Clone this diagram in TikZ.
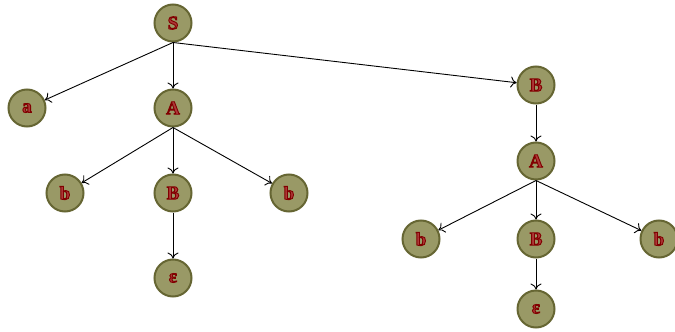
\documentclass[tikz,border=0pt]{standalone}
\usepackage{fontspec}
\setmainfont{Liberation Serif}
\usetikzlibrary{arrows.meta}
\definecolor{nodefill}{RGB}{153,153,102}
\definecolor{nodeedge}{RGB}{102,102,51}
\definecolor{glyphred}{RGB}{128,0,0}
% outlined glyphs: dark red stroke around a slightly lighter red fill
\newcommand{\outl}[1]{\special{pdf:literal direct 2 Tr 0.9 w 0.5 0 0 RG 0.68 0.22 0.22 rg}#1\special{pdf:literal direct 0 Tr}}
\tikzset{
  sym/.style={circle, draw=nodeedge, fill=nodefill, line width=2pt,
    minimum size=37pt, inner sep=0pt, font=\bfseries\fontsize{19}{19}\selectfont, text=glyphred},
  edge/.style={draw=black, line width=0.9pt, -{To[length=6pt,width=11pt]}}
}
\begin{document}
\begin{tikzpicture}[x=1pt,y=-1pt]
\useasboundingbox (0,0) rectangle (675,332);
\node[sym] (S) at (173,23) {\outl{S}};
\node[sym] (a) at (27,108) {\outl{a}};
\node[sym] (A1) at (173,108) {\outl{A}};
\node[sym] (B2) at (536,85) {\outl{B}};
\node[sym] (b1) at (65,193) {\outl{b}};
\node[sym] (B1) at (173,193) {\outl{B}};
\node[sym] (b2) at (289,193) {\outl{b}};
\node[sym] (e1) at (173,278) {\outl{ε}};
\node[sym] (A2) at (536,161) {\outl{A}};
\node[sym] (b3) at (421,239) {\outl{b}};
\node[sym] (B3) at (536,239) {\outl{B}};
\node[sym] (b4) at (659,239) {\outl{b}};
\node[sym] (e2) at (536,309) {\outl{ε}};
\draw[edge] (S.south) -- (a);
\draw[edge] (S.south) -- (A1);
\draw[edge] (S.south) -- (B2);
\draw[edge] (A1.south) -- (b1);
\draw[edge] (A1.south) -- (B1);
\draw[edge] (A1.south) -- (b2);
\draw[edge] (B1.south) -- (e1);
\draw[edge] (B2.south) -- (A2);
\draw[edge] (A2.south) -- (b3);
\draw[edge] (A2.south) -- (B3);
\draw[edge] (A2.south) -- (b4);
\draw[edge] (B3.south) -- (e2);
\end{tikzpicture}
\end{document}
